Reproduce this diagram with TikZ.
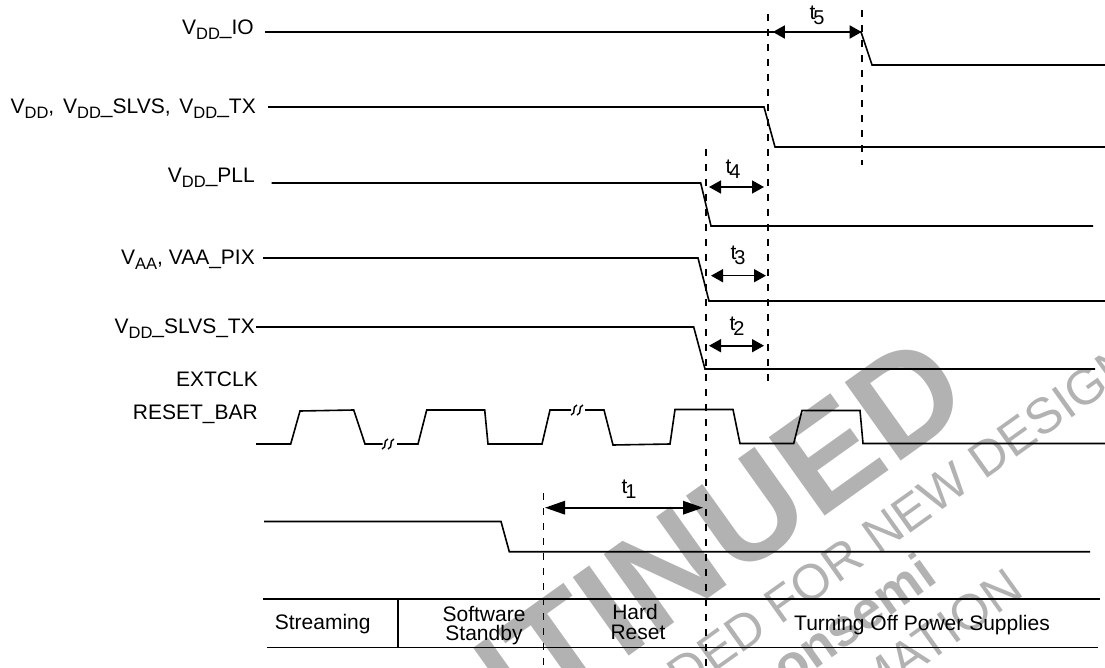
\documentclass[tikz,border=0pt]{standalone}
\usepackage{fontspec}
\setmainfont{Liberation Sans}
\usetikzlibrary{arrows.meta}
\newcommand{\low}[1]{\raisebox{-5pt}{\fontsize{16.5}{16.5}\selectfont #1}}
\newcommand{\tlab}[1]{t\kern-2pt\raisebox{-5pt}{\fontsize{20}{20}\selectfont #1}}
\tikzset{
  wave/.style={line width=1.6pt},
  guide/.style={line width=1.8pt, dash pattern=on 7pt off 8pt},
  span/.style={line width=1.6pt, {Triangle[length=12pt,width=13pt]}-{Triangle[length=12pt,width=13pt]}},
  lab/.style={anchor=base east, inner sep=0pt, font=\fontsize{21}{21}\selectfont},
  cell/.style={inner sep=0pt, align=center, font=\fontsize{21}{19}\selectfont},
  tname/.style={inner sep=0pt, font=\fontsize{21}{21}\selectfont},
  stamp/.style={rotate=35.5, inner sep=0pt, text=black!30}
}
\begin{document}
\begin{tikzpicture}[x=1pt, y=-1pt]
    \useasboundingbox (0,0) rectangle (1105,668);
    % watermark
    \begin{scope}
      \clip (0,0) rectangle (1105,668);
      \node[stamp, anchor=base east, font=\fontsize{140}{140}\selectfont\bfseries] (wm1) at (976,408) {NTINUED};
      \node[stamp, anchor=base east, font=\fontsize{50}{50}\selectfont] (wm2) at (1140.6,368.7) {DED FOR NEW DESIGN};
      \node[stamp, anchor=base west, font=\fontsize{53}{53}\selectfont\bfseries] (wm3) at (788,689) {onsemi};
      \node[stamp, anchor=base east, font=\fontsize{50}{50}\selectfont] (wm4) at (1026,594) {MATION};
    \end{scope}
    % signal names
    \node[lab] (io) at (254,35) {V\low{DD}\_IO};
    \node[lab] (vdd) at (256,114) {V\low{DD},\kern3pt{} V\low{DD}\_SLVS,\kern3pt{} V\low{DD}\_TX};
    \node[lab] (pll) at (255,183) {V\low{DD}\_PLL};
    \node[lab] (vaa) at (255,265) {V\low{AA}, VAA\_PIX};
    \node[lab] (slvs) at (255,333) {V\low{DD}\_SLVS\_TX};
    \node[lab] (ext) at (258,386) {EXTCLK};
    \node[lab] (rst) at (258,419) {RESET\_BAR};
    % guides
    \coordinate (g1t) at (543.5,493); \coordinate (g1b) at (543.5,668);
    \coordinate (g2t) at (705.7,149); \coordinate (g2b) at (705.7,668);
    \coordinate (g3t) at (768.3,14); \coordinate (g3b) at (768.3,381);
    \coordinate (g4t) at (861.7,10); \coordinate (g4b) at (861.7,165);
    \draw[guide, line width=1.3pt] (g1t) -- (g1b);
    \draw[guide] (g2t) -- (g2b);
    \draw[guide] (g3t) -- (g3b);
    \draw[guide] (g4t) -- (g4b);
    % rails
    \draw[wave] (265,32) -- (861,32) -- (872,65) -- (1105,65);
    \draw[wave] (268,107) -- (764,107) -- (775,147) -- (1105,147);
    \draw[wave] (271.7,183) -- (700.7,183) -- (711,226) -- (1093,226);
    \draw[wave] (263,258) -- (698,258) -- (709,301) -- (1105,301);
    \draw[wave] (256,327) -- (693.7,327) -- (705,369) -- (1095,369);
    % clock
    \draw[wave] (256,444) -- (290.7,444) -- (300,411) -- (353.7,410) -- (365,444) -- (382.7,444);
    \draw[wave] (397,444) -- (418,444) -- (426.7,410) -- (484.7,410) -- (488,444) -- (542,444) -- (550,410) -- (571,410);
    \draw[wave] (585,410) -- (604,410) -- (613,445) -- (670,444) -- (675,409.5) -- (733,409.5) -- (740,443.5) -- (793.7,443.5) -- (802,410.5) -- (860,410.5) -- (863,443.5) -- (1105,443.5);
    \foreach \bx/\by in {389/444, 578/410}{
      \draw[line width=1.4pt] (\bx-7,\by+5) .. controls (\bx-1,\by+3) and (\bx-7,\by-3) .. (\bx-1,\by-5);
      \draw[line width=1.4pt] (\bx-1,\by+5) .. controls (\bx+5,\by+3) and (\bx-1,\by-3) .. (\bx+5,\by-5);
    }
    \draw[wave] (264,521.5) -- (501,521.5) -- (509.3,551.7) -- (1090,551.7);
    % spans
    \draw[span] (g3t |- 0,32) ++(4.5,0) coordinate (s5a) -- (g4t |- 0,32);
    \draw[span] (709,187) coordinate (s4a) -- (764,187) coordinate (s4b);
    \draw[span] (711,275.7) coordinate (s3a) -- (766,275.7) coordinate (s3b);
    \draw[span] (709,345.7) coordinate (s2a) -- (764,345.7) coordinate (s2b);
    \draw[span, {Triangle[length=20pt,width=13.5pt]}-{Triangle[length=20pt,width=13.5pt]}] (g1t |- 0,507.7) ++(1.5,0) coordinate (s1a) -- (703,507.7) coordinate (s1b);
    \node[tname] (t5) at (817,15) {\tlab{5}};
    \node[tname] (t4) at (733,169) {\tlab{4}};
    \node[tname] (t3) at (738,255) {\tlab{3}};
    \node[tname] (t2) at (737,326) {\tlab{2}};
    \node[tname] (t1) at (629,489) {\tlab{1}};
    % state table
    \draw[wave] (263,599) -- (1100,599);
    \draw[wave] (267,647.5) -- (1098,647.5);
    \draw[wave] (398,599) -- (398,647.5);
    \node[cell] (stream) at (322.7,624) {Streaming};
    \node[cell] (standby) at (484,626) {Software\\Standby};
    \node[cell] (hard) at (638,622) {Hard\kern6pt\\[1pt]Reset};
    \node[cell] (off) at (922,625) {Turning Off Power Supplies};
  \end{tikzpicture}
\end{document}
